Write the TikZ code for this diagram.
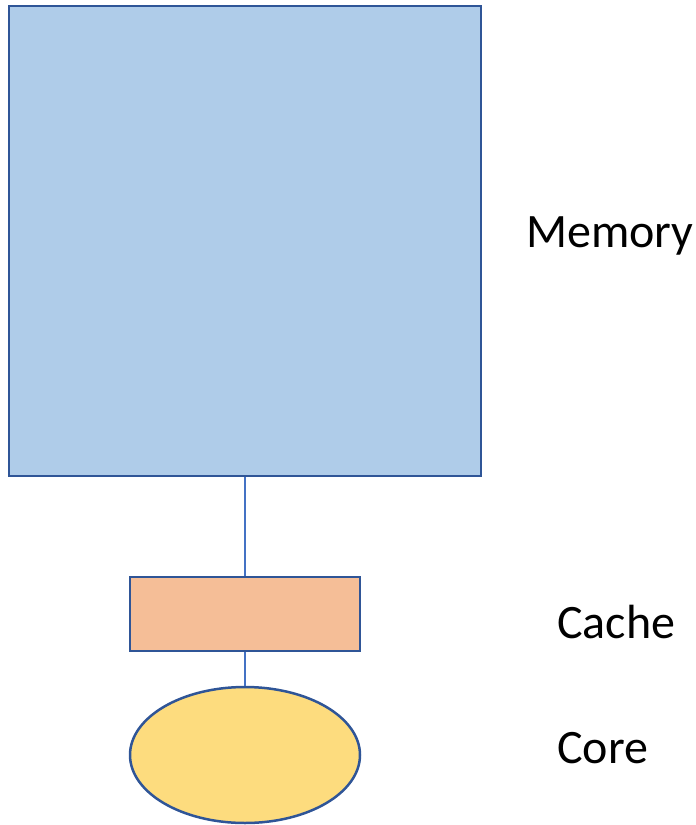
\documentclass[tikz,border=0pt]{standalone}
\usepackage{fontspec}
\setmainfont{Carlito}
\usetikzlibrary{shapes.geometric}
\definecolor{edgeblue}{HTML}{2F5597}
\definecolor{linkblue}{HTML}{4472C4}
\definecolor{memfill}{HTML}{AFCCE9}
\definecolor{cachefill}{HTML}{F5BE97}
\definecolor{corefill}{HTML}{FDDC7E}
\tikzset{
  unit/.style={draw=edgeblue, line width=2.5pt, inner sep=0pt},
  link/.style={draw=linkblue, line width=1.3pt},
  lbl/.style={anchor=base west, inner sep=0pt, font=\fontsize{48}{58}\selectfont}
}

\begin{document}
\begin{tikzpicture}[x=1pt,y=-1pt]
        \useasboundingbox (0,0) rectangle (696,825);

        % blocks
        \node[unit, fill=memfill, minimum width=472pt, minimum height=470pt] (memory) at (245,241) {};
        \node[unit, fill=cachefill, minimum width=230pt, minimum height=74pt] (cache) at (245,614) {};
        \node[unit, ellipse, fill=corefill, minimum width=230pt, minimum height=136pt] (core) at (245,755) {};

        % links
        \draw[link] (memory.south) -- (cache.north);
        \draw[link] (cache.south) -- (core.north);

        % labels
        \node[lbl] (memlbl) at (526,247) {Memory};
        \node[lbl] (cachelbl) at (557,638) {Cache};
        \node[lbl] (corelbl) at (557,763) {Core};
\end{tikzpicture}
\end{document}
